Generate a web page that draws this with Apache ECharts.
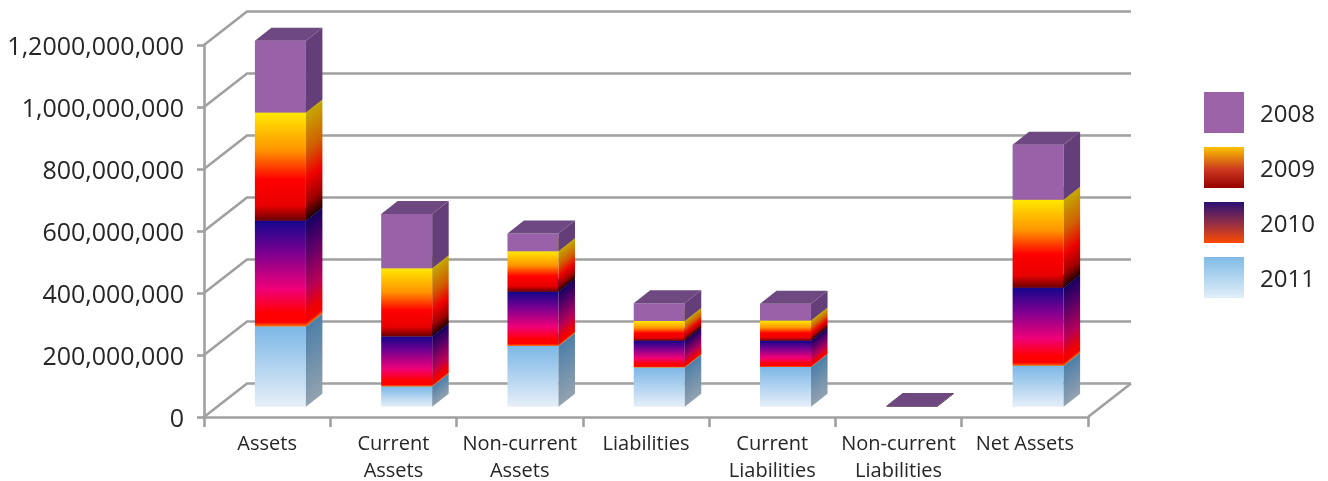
<!DOCTYPE html>
<html>
<head>
<meta charset="utf-8">
<style>html,body{margin:0;padding:0;background:#fff}#chart{width:1328px;height:481px}</style>
<script src="https://cdn.jsdelivr.net/npm/echarts@6/dist/echarts.min.js"></script>
</head>
<body>
<div id="chart"></div>
<script>
// Stacked balance-sheet totals by year, in currency units.
const categories = ['Assets', 'Current\nAssets', 'Non-current\nAssets', 'Liabilities', 'Current\nLiabilities', 'Non-current\nLiabilities', 'Net Assets'];
const values2011 = [259000000, 65000000, 196000000, 127000000, 128000000, 600000, 132000000];
const values2010 = [341000000, 162000000, 175000000, 86000000, 85000000, 500000, 252000000];
const values2009 = [349000000, 220000000, 131000000, 64000000, 65000000, 500000, 284000000];
const values2008 = [232000000, 175000000, 57000000, 57000000, 54000000, 500000, 177000000];
const yearNames = ['2008', '2009', '2010', '2011'];
const tickValues = [0, 200000000, 400000000, 600000000, 800000000, 1000000000, 1200000000];
const tickLabels = ['0', '200,000,000', '400,000,000', '600,000,000', '800,000,000', '1,000,000,000', '1,2000,000,000'];

// Oblique projection of the chart box and of each column.
const WALL_DX = 43, WALL_DY = -33.5;
const BAR_DX = 16.5, BAR_DY = -13;
const BAR_RATIO = 0.404;
const GRID_COLOR = '#a0a0a0';
const GRID_WIDTH = 2.6;

// Face colours per year: front, side, top. Stops run from the top of a segment to its bottom.
const faces = {
  '2011': {
    front: [[0, '#7db7e6'], [1, '#e6eff9']],
    side: [[0, '#4d7fa8'], [1, '#93a2b0']],
    top: '#5d8fb8'
  },
  '2010': {
    front: [[0, '#14068c'], [0.3, '#7a0090'], [0.65, '#f00078'], [0.88, '#ff0000'], [0.96, '#ff0000'], [1, '#ff7a00']],
    side: [[0, '#140060'], [0.3, '#5c0068'], [0.65, '#b80058'], [0.88, '#f00000'], [0.96, '#f00000'], [1, '#ff6a00']],
    top: '#14068c'
  },
  '2009': {
    front: [[0, '#ffe800'], [0.35, '#ff9400'], [0.62, '#ff0000'], [0.86, '#e80000'], [1, '#6a0000']],
    side: [[0, '#c4a800'], [0.35, '#d06000'], [0.62, '#ee0000'], [0.84, '#a00000'], [1, '#200000']],
    top: '#c4a800'
  },
  '2008': {
    front: [[0, '#9861a8'], [1, '#9861a8']],
    side: [[0, '#643e78'], [1, '#643e78']],
    top: '#6e4880'
  }
};

// Legend swatches use softer ramps than the columns.
const swatches = {
  '2008': [[0, '#9b62a8'], [1, '#9b62a8']],
  '2009': [[0, '#fcc400'], [0.55, '#cc3820'], [1, '#960000']],
  '2010': [[0, '#2a1074'], [0.5, '#8e2e48'], [1, '#ff4a00']],
  '2011': [[0, '#80bbe6'], [1, '#e2eff9']]
};

const stackOrder = [
  ['2011', values2011],
  ['2010', values2010],
  ['2009', values2009],
  ['2008', values2008]
];

function linear(x, y, x2, y2, stops) {
  return new echarts.graphic.LinearGradient(x, y, x2, y2,
    stops.map(s => ({ offset: s[0], color: s[1] })), true);
}

// Gradient along the skewed side face: its colour bands follow the receding edge.
function skewGradient(x, y, h, stops) {
  const len = Math.hypot(BAR_DX, BAR_DY);
  const nx = -BAR_DY / len, ny = BAR_DX / len;
  const d = h * ny;
  return linear(x, y, x + nx * d, y + ny * d, stops);
}

function renderSegment(year) {
  return function (params, api) {
    const cat = api.value(0), low = api.value(1), high = api.value(2);
    const band = api.size([1, 0])[0];
    const w = band * BAR_RATIO;
    const mx = (WALL_DX - BAR_DX) / 2, my = (WALL_DY - BAR_DY) / 2;
    const b = api.coord([cat, low]);
    const t = api.coord([cat, high]);
    const x0 = b[0] - w / 2 + mx, x1 = x0 + w;
    const yb = b[1] + my, yt = t[1] + my;
    const h = Math.max(yb - yt, 0.01);
    const f = faces[year];
    return {
      type: 'group',
      children: [
        {
          type: 'rect', shape: { x: x0, y: yt, width: w, height: h },
          style: { fill: linear(x0, yt, x0, yb, f.front) }
        },
        {
          type: 'polygon',
          shape: { points: [[x1, yb], [x1, yt], [x1 + BAR_DX, yt + BAR_DY], [x1 + BAR_DX, yb + BAR_DY]] },
          style: { fill: skewGradient(x1, yt, h, f.side) }
        },
        {
          type: 'polygon',
          shape: { points: [[x0, yt], [x1, yt], [x1 + BAR_DX, yt + BAR_DY], [x0 + BAR_DX, yt + BAR_DY]] },
          style: { fill: f.top }
        }
      ]
    };
  };
}

// The wall and floor lines behind the columns, one item per value tick.
function renderWall(params, api) {
  const c = params.coordSys;
  const p = api.coord([0, api.value(0)]);
  const xLeft = c.x, xRight = c.x + c.width;
  const y = p[1];
  const lineStyle = { stroke: GRID_COLOR, lineWidth: GRID_WIDTH, fill: 'none' };
  const children = [{
    type: 'polyline',
    shape: { points: [[xLeft, y], [xLeft + WALL_DX, y + WALL_DY], [xRight + WALL_DX, y + WALL_DY]] },
    style: lineStyle
  }];
  if (api.value(0) === 0) {
    children.push({
      type: 'line',
      shape: { x1: xRight, y1: y, x2: xRight + WALL_DX, y2: y + WALL_DY },
      style: lineStyle
    });
  }
  return { type: 'group', children };
}

const series = [{
  type: 'custom',
  name: 'wall',
  renderItem: renderWall,
  data: tickValues.map(v => [v]),
  encode: { y: 0 },
  clip: false,
  silent: true,
  z: 1
}];

const cumulative = categories.map(() => 0);
stackOrder.forEach(([year, values]) => {
  const data = values.map((v, i) => {
    const low = cumulative[i];
    cumulative[i] += v;
    return [i, low, cumulative[i]];
  });
  series.push({
    type: 'custom',
    name: year,
    renderItem: renderSegment(year),
    data,
    encode: { x: 0, y: [1, 2] },
    clip: false,
    itemStyle: {
      color: new echarts.graphic.LinearGradient(0, 0, 0, 1,
        swatches[year].map(s => ({ offset: s[0], color: s[1] })))
    },
    z: 2
  });
});

const chart = echarts.init(document.getElementById('chart'), null, { renderer: 'canvas' });
chart.setOption({
  animation: false,
  backgroundColor: '#ffffff',
  textStyle: { fontFamily: '"Open Sans", "Noto Sans", sans-serif' },
  legend: {
    orient: 'vertical',
    left: 1204,
    top: 92,
    padding: 0,
    itemWidth: 40,
    itemHeight: 41,
    itemGap: 14,
    icon: 'rect',
    data: yearNames,
    selectedMode: false,
    formatter: name => `{year|${name}}`,
    textStyle: {
      rich: {
        year: {
          fontSize: 24,
          color: '#262626',
          lineHeight: 30,
          verticalAlign: 'bottom',
          padding: [0, 0, 0, 11],
          fontFamily: '"Open Sans", sans-serif'
        }
      }
    }
  },
  grid: { left: 204, top: 45, width: 884, height: 372, containLabel: false, outerBoundsMode: 'none' },
  xAxis: {
    type: 'category',
    data: categories,
    axisLine: { lineStyle: { color: GRID_COLOR, width: GRID_WIDTH } },
    axisTick: { show: true, length: 10, lineStyle: { color: GRID_COLOR, width: GRID_WIDTH } },
    axisLabel: { interval: 0, fontSize: 20, lineHeight: 27, color: '#262626', margin: 14, fontFamily: '"Open Sans", sans-serif' }
  },
  yAxis: {
    type: 'value',
    min: 0,
    max: 1200000000,
    interval: 200000000,
    splitLine: { show: false },
    axisLine: { show: true, lineStyle: { color: GRID_COLOR, width: GRID_WIDTH } },
    axisTick: { show: true, length: 7, lineStyle: { color: GRID_COLOR, width: GRID_WIDTH } },
    axisLabel: {
      fontSize: 25,
      color: '#262626',
      margin: 20,
      verticalAlign: 'top',
      padding: [-10, 0, 0, 0],
      fontFamily: '"Open Sans", sans-serif',
      formatter: v => tickLabels[tickValues.indexOf(v)]
    }
  },
  series
});
</script>
</body>
</html>
